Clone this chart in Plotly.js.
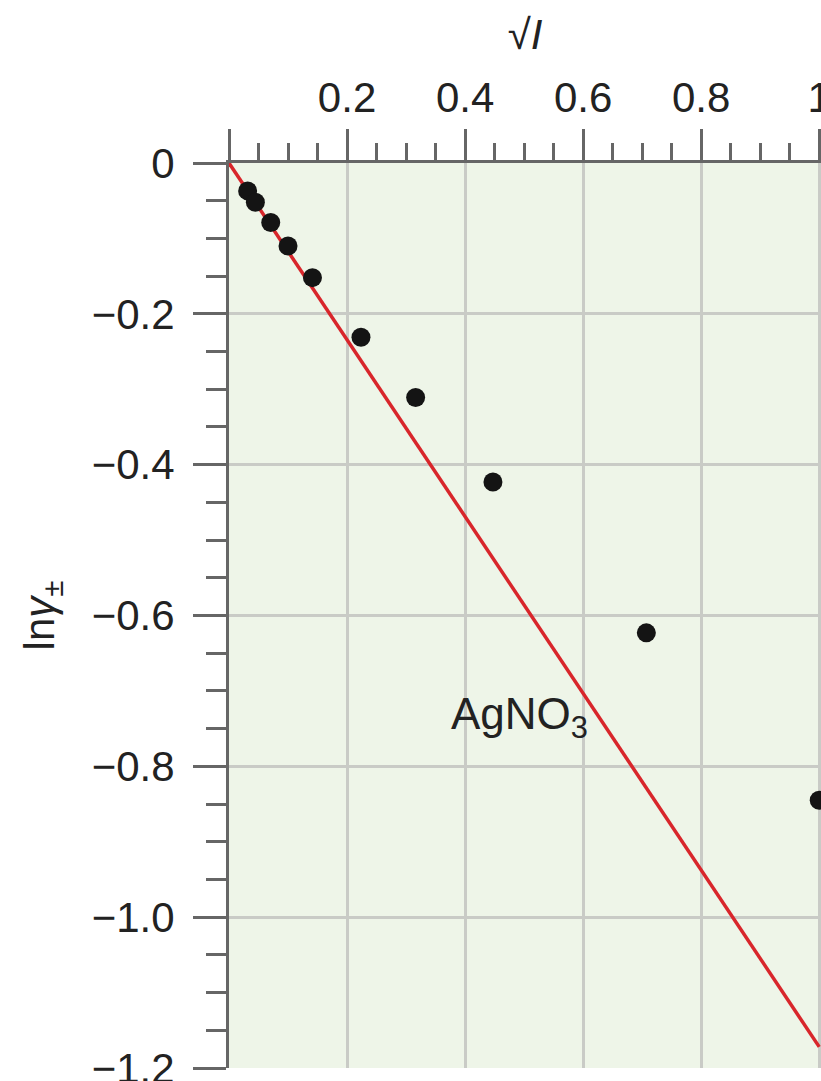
<!DOCTYPE html>
<html>
<head>
<meta charset="utf-8">
<script src="https://cdn.plot.ly/plotly-3.0.1.min.js"></script>
<style>html,body{margin:0;padding:0;background:#fff;}#chart{width:821px;height:1081px;}</style>
</head>
<body>
<div id="chart"></div>
<script>
// Data
const sqrtI = [0.0316, 0.0447, 0.0707, 0.1, 0.1414, 0.2236, 0.3162, 0.4472, 0.7071, 1.0];
const lnGamma = [-0.037, -0.052, -0.079, -0.110, -0.152, -0.231, -0.311, -0.423, -0.623, -0.845];
// Debye–Hückel limiting law line
const limitX = [0, 1.0];
const limitY = [0, -1.172];
// Ticks
const xTickVals = [0, 0.2, 0.4, 0.6, 0.8, 1.0];
const xTickText = ['', '0.2', '0.4', '0.6', '0.8', '1'];
const yTickVals = [0, -0.2, -0.4, -0.6, -0.8, -1.0, -1.2];
const yTickText = ['0', '\u22120.2', '\u22120.4', '\u22120.6', '\u22120.8', '\u22121.0', '\u22121.2'];
const seriesLabel = 'AgNO<sub>3</sub>';

const FONT = 'Liberation Sans, Arial, Helvetica, sans-serif';
const AXC = '#666666';
const GRID = '#c9cbc6';

const traces = [
  {x: limitX, y: limitY, mode: 'lines', type: 'scatter',
   line: {color: '#d8262b', width: 3.5}, hoverinfo: 'skip', showlegend: false},
  {x: sqrtI, y: lnGamma, mode: 'markers', type: 'scatter', cliponaxis: false,
   marker: {color: '#141414', size: 19}, showlegend: false}
];

const layout = {
  width: 821, height: 1081,
  margin: {l: 229, r: 0, t: 163, b: 13},
  paper_bgcolor: '#ffffff',
  plot_bgcolor: '#eef5e8',
  font: {family: FONT, color: '#222'},
  showlegend: false,
  xaxis: {
    side: 'top', range: [0, 1.003],
    tickmode: 'array', tickvals: xTickVals, ticktext: xTickText,
    ticks: 'outside', ticklen: 31, tickwidth: 3, tickcolor: AXC,
    ticklabelstandoff: 0, ticklabeloverflow: 'allow',
    tickfont: {size: 42, family: FONT, color: '#222'},
    showline: true, linewidth: 3, linecolor: AXC,
    showgrid: true, gridcolor: GRID, gridwidth: 3, zeroline: false,
    minor: {tick0: 0, dtick: 0.05, ticks: 'outside', ticklen: 17, tickwidth: 3, tickcolor: AXC, showgrid: false},
    title: {text: '\u221A<i>I</i>', font: {size: 42, family: FONT, color: '#222'}, standoff: 12},
    fixedrange: true
  },
  yaxis: {
    range: [-1.2, 0],
    tickmode: 'array', tickvals: yTickVals, ticktext: yTickText,
    ticks: 'outside', ticklen: 33, tickwidth: 3, tickcolor: AXC,
    ticklabelstandoff: 10, ticklabeloverflow: 'allow',
    tickfont: {size: 42, family: FONT, color: '#222'},
    showline: true, linewidth: 3, linecolor: AXC,
    showgrid: true, gridcolor: GRID, gridwidth: 3, zeroline: false,
    minor: {tick0: 0, dtick: 0.05, ticks: 'outside', ticklen: 20, tickwidth: 3, tickcolor: AXC, showgrid: false},
    title: {text: 'ln<i>\u03B3</i><sub>\u00B1</sub>', font: {size: 42, family: FONT, color: '#222'}, standoff: 24},
    fixedrange: true
  },
  annotations: [
    {x: 0.492, y: -0.735, xref: 'x', yref: 'y', text: seriesLabel, showarrow: false,
     font: {size: 44, family: FONT, color: '#222'}}
  ]
};

Plotly.newPlot('chart', traces, layout, {displayModeBar: false, staticPlot: true});
</script>
</body>
</html>
